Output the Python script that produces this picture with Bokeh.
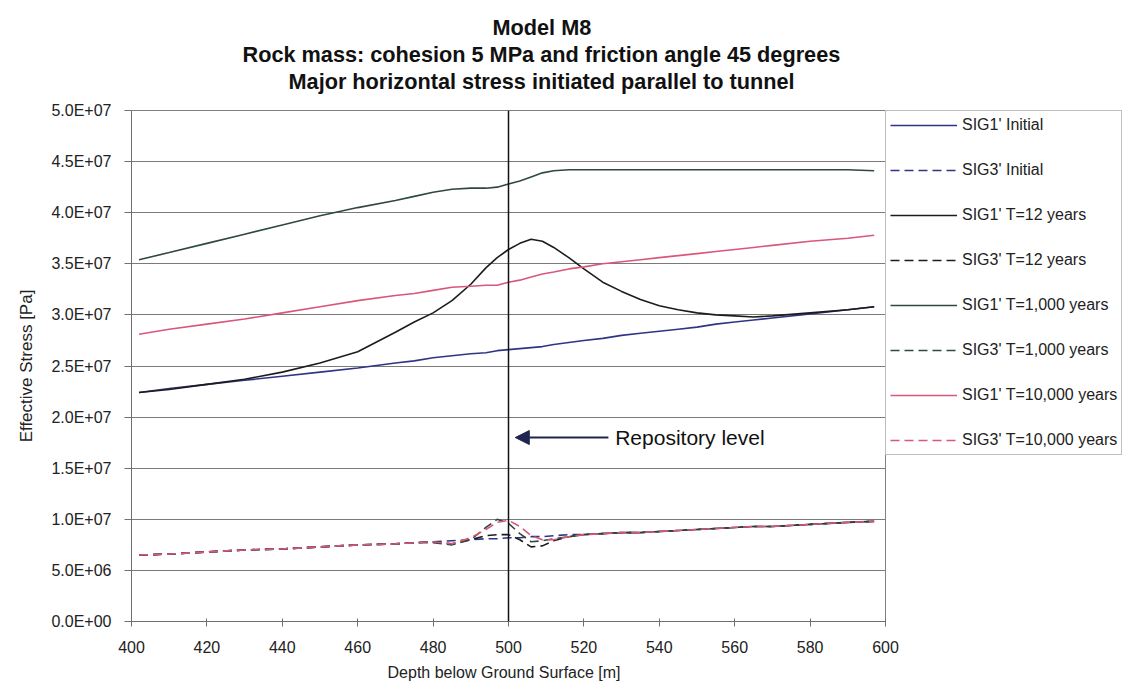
from bokeh.plotting import figure
from bokeh.models import (Legend, LegendItem, Span, Arrow, NormalHead, Label,
                          FixedTicker, Title)
from bokeh.embed import file_html
from bokeh.resources import INLINE

# ---------------- data (stress values in MPa; axis labelled in Pa) ----------------
depth = [402, 410, 420, 430, 440, 450, 460, 470, 475, 480, 485, 490, 494, 497,
         500, 503, 506, 509, 512, 516, 520, 525, 530, 535, 540, 545, 550, 555,
         560, 565, 570, 580, 590, 597]

sig1_initial = [22.4, 22.8, 23.2, 23.6, 24.0, 24.4, 24.8, 25.3, 25.5, 25.8, 26.0, 26.2, 26.3, 26.5,
                26.6, 26.7, 26.8, 26.9, 27.1, 27.3, 27.5, 27.7, 28.0, 28.2, 28.4, 28.6, 28.8, 29.1,
                29.3, 29.5, 29.7, 30.1, 30.5, 30.8]

sig1_t12 = [22.4, 22.7, 23.2, 23.7, 24.4, 25.3, 26.4, 28.3, 29.3, 30.2, 31.4, 33.0, 34.6, 35.6,
            36.4, 37.0, 37.4, 37.2, 36.6, 35.6, 34.5, 33.2, 32.3, 31.5, 30.9, 30.5, 30.2, 30.0,
            29.9, 29.8, 29.9, 30.2, 30.5, 30.8]

sig1_t1000 = [35.4, 36.1, 37.0, 37.9, 38.8, 39.7, 40.5, 41.2, 41.6, 42.0, 42.3, 42.4, 42.4, 42.5,
              42.8, 43.1, 43.5, 43.9, 44.1, 44.2, 44.2, 44.2, 44.2, 44.2, 44.2, 44.2, 44.2, 44.2,
              44.2, 44.2, 44.2, 44.2, 44.2, 44.1]

sig1_t10000 = [28.1, 28.6, 29.1, 29.6, 30.2, 30.8, 31.4, 31.9, 32.1, 32.4, 32.7, 32.8, 32.9, 32.9,
               33.2, 33.4, 33.7, 34.0, 34.2, 34.5, 34.7, 35.0, 35.2, 35.4, 35.6, 35.8, 36.0, 36.2,
               36.4, 36.6, 36.8, 37.2, 37.5, 37.8]

sig3_initial = [6.5, 6.6, 6.8, 7.0, 7.1, 7.3, 7.5, 7.6, 7.7, 7.8, 7.9, 8.0, 8.1, 8.1,
                8.2, 8.2, 8.3, 8.3, 8.4, 8.5, 8.5, 8.6, 8.7, 8.7, 8.8, 8.9, 9.0, 9.1,
                9.2, 9.3, 9.3, 9.5, 9.7, 9.8]

sig3_t12 = [6.5, 6.6, 6.8, 7.0, 7.1, 7.3, 7.5, 7.6, 7.7, 7.8, 7.6, 8.0, 8.4, 8.5,
            8.5, 8.0, 7.3, 7.4, 7.9, 8.3, 8.5, 8.6, 8.7, 8.7, 8.8, 8.9, 9.0, 9.1,
            9.2, 9.3, 9.3, 9.5, 9.7, 9.8]

sig3_t1000 = [6.5, 6.6, 6.8, 7.0, 7.1, 7.3, 7.5, 7.6, 7.7, 7.7, 7.5, 8.0, 9.2, 10.0,
              9.6, 8.6, 7.8, 7.9, 8.1, 8.3, 8.5, 8.6, 8.7, 8.7, 8.8, 8.9, 9.0, 9.1,
              9.2, 9.3, 9.3, 9.5, 9.7, 9.8]

sig3_t10000 = [6.5, 6.6, 6.8, 7.0, 7.1, 7.3, 7.5, 7.6, 7.7, 7.8, 7.6, 8.2, 9.0, 9.7,
               9.9, 9.3, 8.4, 8.0, 8.0, 8.3, 8.5, 8.6, 8.7, 8.7, 8.8, 8.9, 9.0, 9.1,
               9.2, 9.3, 9.3, 9.5, 9.7, 9.8]

series_labels = ["SIG1' Initial", "SIG3' Initial", "SIG1' T=12 years", "SIG3' T=12 years",
                 "SIG1' T=1,000 years", "SIG3' T=1,000 years", "SIG1' T=10,000 years",
                 "SIG3' T=10,000 years"]

x_ticks = [400, 420, 440, 460, 480, 500, 520, 540, 560, 580, 600]
y_ticks = [0, 5, 10, 15, 20, 25, 30, 35, 40, 45, 50]
y_tick_labels = ["0.0E+00", "5.0E+06", "1.0E+07", "1.5E+07", "2.0E+07", "2.5E+07",
                 "3.0E+07", "3.5E+07", "4.0E+07", "4.5E+07", "5.0E+07"]

title_lines = ["Model M8",
               "Rock mass: cohesion 5 MPa and friction angle 45 degrees",
               "Major horizontal stress initiated parallel to tunnel"]

repository_depth = 500
arrow_level = 18.0
arrow_tail_depth = 526.5
arrow_head_depth = 501.8
arrow_text = "Repository level"

# ---------------- styling ----------------
FONT = "Liberation Sans"
NAVY = "#2e3585"
BLACK = "#1c1c1c"
DKGREEN = "#2f4a3c"
PINK = "#d9577a"
DASH = "9 5"

p = figure(frame_width=754, frame_height=511, x_range=(400, 600), y_range=(0, 50),
           output_backend="svg", toolbar_location=None, title=None,
           min_border_left=131, min_border_right=0, min_border_top=110,
           min_border_bottom=72, background_fill_color="white",
           border_fill_color="white")

p.outline_line_color = "#808080"
p.xgrid.visible = False
p.ygrid.grid_line_color = "#7a7a7a"
p.ygrid.grid_line_width = 1

p.xaxis.ticker = FixedTicker(ticks=x_ticks)
p.yaxis.ticker = FixedTicker(ticks=y_ticks)
p.yaxis.major_label_overrides = {t: l for t, l in zip(y_ticks, y_tick_labels)}
for ax in (p.xaxis[0], p.yaxis[0]):
    ax.axis_line_color = "#707070"
    ax.major_tick_line_color = "#707070"
    ax.minor_tick_line_color = None
    ax.major_label_text_font = FONT
    ax.major_label_text_font_size = "16px"
    ax.major_label_text_color = "#222222"
    ax.axis_label_text_font = FONT
    ax.axis_label_text_font_size = "16px"
    ax.axis_label_text_font_style = "normal"
    ax.axis_label_text_color = "#222222"

p.xaxis.major_tick_in = 3
p.xaxis.major_tick_out = 5
p.xaxis.major_label_standoff = 14
p.xaxis.axis_label = "Depth below  Ground Surface  [m]"
p.xaxis.axis_label_standoff = 8

p.yaxis.major_tick_in = 0
p.yaxis.major_tick_out = 7
p.yaxis.major_label_standoff = 13
p.yaxis.axis_label = "Effective Stress [Pa]"
p.yaxis.axis_label_text_font_size = "17px"
p.yaxis.axis_label_standoff = 12

# ---------------- lines ----------------
specs = [
    (sig1_initial, NAVY, "solid"),
    (sig3_initial, NAVY, DASH),
    (sig1_t12, BLACK, "solid"),
    (sig3_t12, BLACK, DASH),
    (sig1_t1000, DKGREEN, "solid"),
    (sig3_t1000, DKGREEN, DASH),
    (sig1_t10000, PINK, "solid"),
    (sig3_t10000, PINK, DASH),
]
renderers = []
for vals, col, dash in specs:
    r = p.line(depth, vals, line_color=col, line_width=1.6, line_dash=dash)
    renderers.append(r)

# repository line and arrow
p.add_layout(Span(location=repository_depth, dimension="height",
                  line_color="#111111", line_width=1.5))
p.add_layout(Arrow(x_start=arrow_tail_depth, y_start=arrow_level,
                   x_end=arrow_head_depth, y_end=arrow_level,
                   line_color="#1f2450", line_width=2,
                   end=NormalHead(size=14, fill_color="#1f2450", line_color="#1f2450")))
p.add_layout(Label(x=arrow_tail_depth + 1.8, y=arrow_level, text=arrow_text,
                   text_baseline="middle", text_align="left",
                   text_font=FONT, text_font_size="21px", text_color="#111111"))

# titles (first added sits closest to the frame)
p.add_layout(Title(text=" ", text_font_size="13px", standoff=0), "above")
title_offsets = [361, 111, 157]
for txt, off in reversed(list(zip(title_lines, title_offsets))):
    p.add_layout(Title(text=txt, align="left", offset=off, standoff=0,
                       text_line_height=0.9,
                       text_font=FONT, text_font_size="21.7px",
                       text_font_style="bold", text_color="#111111"), "above")

# legend
legend = Legend(items=[LegendItem(label=lab, renderers=[r])
                       for lab, r in zip(series_labels, renderers)],
                location="top_left", orientation="vertical",
                glyph_width=67, glyph_height=20, spacing=25, padding=4,
                label_standoff=5, margin=0,
                label_text_font=FONT, label_text_font_size="16px",
                label_text_color="#222222",
                border_line_color="#808080", border_line_width=1,
                background_fill_color="white")
p.add_layout(legend, "right")

open("out.html", "w").write(file_html(p, INLINE))
